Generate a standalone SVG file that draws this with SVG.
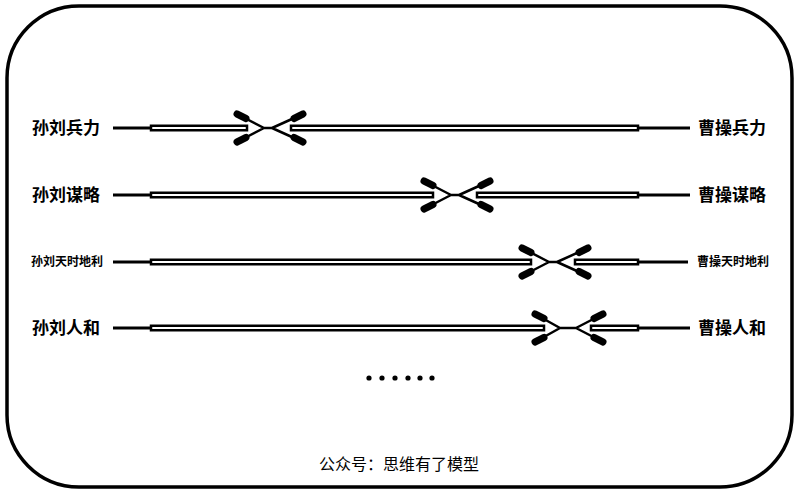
<svg xmlns="http://www.w3.org/2000/svg" width="800" height="494" viewBox="0 0 800 494">
<style>
.lbl{font-family:"Noto Sans CJK SC","Noto Sans",sans-serif;font-weight:bold;font-size:17px;fill:#000}
.sm{font-size:12px}
.single{stroke:#000;stroke-width:3;fill:none}
.dbl{stroke:#000;stroke-width:2.5;fill:#fff}
.arm{stroke:#000;stroke-width:2.5;fill:none;stroke-linecap:round}
.blob{stroke:#000;stroke-width:7;fill:none;stroke-linecap:round}
</style>
<defs>
<g id="cross">
<path class="arm" d="M-4,0 H4 M-4,0 L-31,-14 M-4,0 L-31,14 M4,0 L35,-14 M4,0 L35,14"/>
<path class="blob" d="M-31,-14 L-22,-9.5 M-31,14 L-22,9.5 M35,-14 L26,-9.5 M35,14 L26,9.5"/>
</g>
<g id="cross2">
<path class="arm" d="M-8,0 H8 M-8,0 L-33,-14 M-8,0 L-33,14 M8,0 L35,-14 M8,0 L35,14"/>
<path class="blob" d="M-33,-14 L-24,-9.5 M-33,14 L-24,9.5 M35,-14 L26,-9.5 M35,14 L26,9.5"/>
</g>
</defs>
<rect x="7" y="6" width="785" height="481" rx="72" ry="72" fill="#fff" stroke="#000" stroke-width="3.5"/>
<g id="connectors">
<g id="row1">
<path class="single" d="M113,128 H150 M638,128 H690"/>
<rect class="dbl" x="151" y="125.75" width="96" height="4.5"/>
<rect class="dbl" x="291" y="125.75" width="347" height="4.5"/>
<use href="#cross" x="268" y="128"/>
</g>
<g id="row2">
<path class="single" d="M113,195 H150 M638,195 H690"/>
<rect class="dbl" x="151" y="192.75" width="282" height="4.5"/>
<rect class="dbl" x="477" y="192.75" width="161" height="4.5"/>
<use href="#cross" x="455" y="195"/>
</g>
<g id="row3">
<path class="single" d="M113,262 H150 M638,262 H688"/>
<rect class="dbl" x="151" y="259.75" width="380" height="4.5"/>
<rect class="dbl" x="575" y="259.75" width="63" height="4.5"/>
<use href="#cross" x="553" y="262"/>
</g>
<g id="row4">
<path class="single" d="M113,328 H150 M638,328 H690"/>
<rect class="dbl" x="151" y="325.75" width="393" height="4.5"/>
<rect class="dbl" x="591" y="325.75" width="47" height="4.5"/>
<use href="#cross2" x="568" y="328"/>
</g>
</g>
<g id="n-liu-bingli"><text class="lbl" x="32" y="134">孙刘兵力</text></g>
<g id="n-cao-bingli"><text class="lbl" x="698" y="134">曹操兵力</text></g>
<g id="n-liu-moulue"><text class="lbl" x="32" y="201">孙刘谋略</text></g>
<g id="n-cao-moulue"><text class="lbl" x="698" y="201">曹操谋略</text></g>
<g id="n-liu-tianshi"><text class="lbl sm" x="31" y="266">孙刘天时地利</text></g>
<g id="n-cao-tianshi"><text class="lbl sm" x="697" y="266">曹操天时地利</text></g>
<g id="n-liu-renhe"><text class="lbl" x="32" y="334">孙刘人和</text></g>
<g id="n-cao-renhe"><text class="lbl" x="698" y="334">曹操人和</text></g>
<g id="dots" fill="#000">
<circle cx="369" cy="378" r="2.6"/><circle cx="382" cy="378" r="2.6"/><circle cx="395" cy="378" r="2.6"/>
<circle cx="408" cy="378" r="2.6"/><circle cx="420" cy="378" r="2.6"/><circle cx="432" cy="378" r="2.6"/>
</g>
<g id="footer"><text x="399" y="470" text-anchor="middle" font-family="Noto Sans CJK SC,sans-serif" font-size="16" fill="#000">公众号：思维有了模型</text></g>
</svg>
